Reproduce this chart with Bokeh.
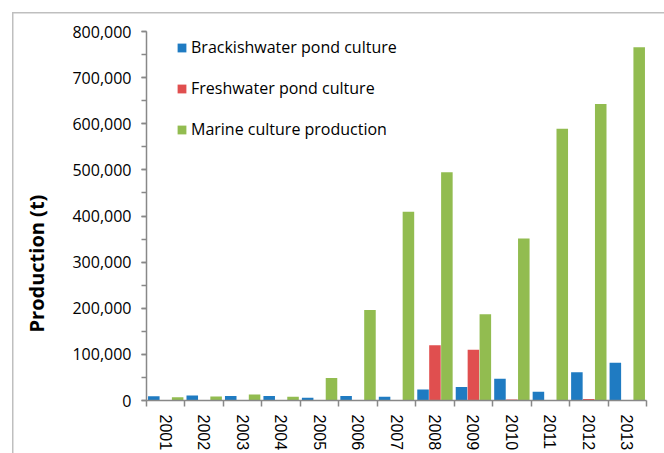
import math
from bokeh.plotting import figure
from bokeh.models import (Range1d, FixedTicker, SingleIntervalTicker, NumeralTickFormatter,
                          Legend, LegendItem, Title, ColumnDataSource)
from bokeh.transform import dodge
from bokeh.embed import file_html
from bokeh.resources import INLINE

years = ["2001", "2002", "2003", "2004", "2005", "2006", "2007",
         "2008", "2009", "2010", "2011", "2012", "2013"]
brackish = [9000, 11000, 10000, 10000, 6000, 10000, 8000,
            24000, 29000, 47000, 19000, 61000, 82000]
freshwater = [0, 0, 0, 0, 0, 0, 0,
              120000, 110000, 2000, 0, 3000, 0]
marine = [7000, 8500, 13000, 8000, 49000, 196000, 409000,
          495000, 187000, 351000, 589000, 643000, 766000]

series_names = ["Brackishwater pond culture", "Freshwater pond culture", "Marine culture production"]
colors = ["#1F7BC2", "#E04F4F", "#92BC50"]

centers = [i + 0.5 for i in range(len(years))]
src = ColumnDataSource(dict(x=centers, b=brackish, f=freshwater, m=marine))

axis_color = "#888888"
frame_color = "#BFBFBF"

p = figure(width=664, height=453, output_backend="svg", toolbar_location=None,
           x_range=Range1d(0, len(years)), y_range=Range1d(0, 800000),
           min_border_left=145, min_border_right=18, min_border_top=31, min_border_bottom=51)
p.xgrid.visible = False
p.ygrid.visible = False
p.outline_line_color = None
p.background_fill_color = "white"
p.border_fill_alpha = 0
# outer chart border (left and top edges) drawn behind the transparent canvas border
p.styles = {
    "background-color": "white",
    "background-image": ("linear-gradient(%s, %s), linear-gradient(%s, %s)"
                         % (frame_color, frame_color, frame_color, frame_color)),
    "background-position": "12px 12px, 12px 12px",
    "background-size": "1.5px 100%, 100% 1.5px",
    "background-repeat": "no-repeat, no-repeat",
}

bw = 0.3
r1 = p.vbar(x=dodge("x", -0.31), top="b", width=bw, source=src, fill_color=colors[0], line_color=None)
r2 = p.vbar(x=dodge("x", 0.0), top="f", width=bw, source=src, fill_color=colors[1], line_color=None)
r3 = p.vbar(x=dodge("x", 0.31), top="m", width=bw, source=src, fill_color=colors[2], line_color=None)

# x axis
xa = p.xaxis[0]
xa.ticker = FixedTicker(ticks=centers, minor_ticks=list(range(len(years) + 1)))
xa.major_label_overrides = {c: y for c, y in zip(centers, years)}
xa.major_tick_out = 0
xa.major_tick_in = 0
xa.minor_tick_out = 6
xa.minor_tick_in = 0
xa.minor_tick_line_color = axis_color
xa.minor_tick_line_width = 1.5
xa.axis_line_color = axis_color
xa.axis_line_width = 1.5
xa.major_label_orientation = "vertical"
xa.major_label_standoff = 8
xa.major_label_text_font = "Liberation Sans"
xa.major_label_text_font_size = "16px"
xa.major_label_text_color = "black"

# y axis
ya = p.yaxis[0]
ya.ticker = SingleIntervalTicker(interval=100000, num_minor_ticks=2)
ya.formatter = NumeralTickFormatter(format="0,0")
ya.major_tick_out = 5
ya.major_tick_in = 0
ya.minor_tick_out = 5
ya.minor_tick_in = 0
ya.major_tick_line_color = axis_color
ya.minor_tick_line_color = axis_color
ya.major_tick_line_width = 1.5
ya.minor_tick_line_width = 1.5
ya.axis_line_color = axis_color
ya.axis_line_width = 1.5
ya.major_label_standoff = 10
ya.major_label_text_font = "Open Sans"
ya.major_label_text_font_size = "16px"
ya.major_label_text_color = "black"

# y axis title, placed in the left panel and shifted like the reference
p.add_layout(Title(text="Production (t)", align="left", offset=68, standoff=40,
                   text_font="Open Sans", text_font_style="bold", text_font_size="20px",
                   text_color="black"), "left")

legend = Legend(items=[LegendItem(label=series_names[0], renderers=[r1]),
                       LegendItem(label=series_names[1], renderers=[r2]),
                       LegendItem(label=series_names[2], renderers=[r3])],
                location=(30, 260), orientation="vertical",
                glyph_width=11, glyph_height=11, label_height=20, spacing=19,
                padding=0, margin=0, label_standoff=4,
                border_line_color=None, background_fill_alpha=0,
                label_text_font="Open Sans", label_text_font_size="16px",
                label_text_color="black")
p.add_layout(legend)

open("out.html", "w").write(file_html(p, INLINE))
